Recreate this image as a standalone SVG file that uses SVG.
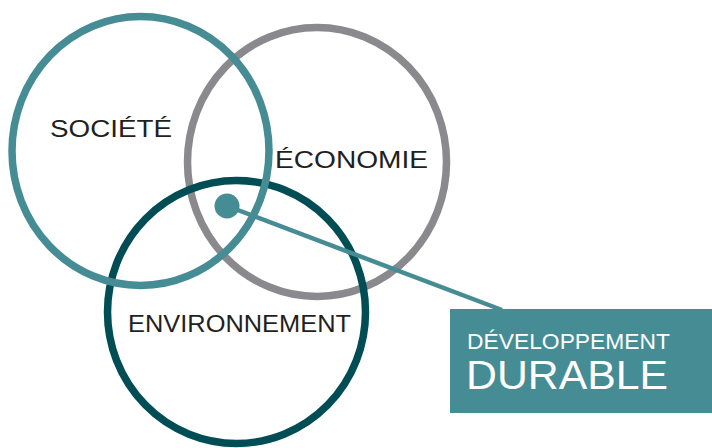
<svg xmlns="http://www.w3.org/2000/svg" width="712" height="448" viewBox="0 0 712 448">
<style>
.ring{fill:none;stroke-width:7.5}
.lbl{font-family:"Liberation Sans",Arial,sans-serif;font-size:24px;fill:#231f20}
.wt{font-family:"Liberation Sans",Arial,sans-serif;fill:#ffffff}
</style>
<rect width="712" height="448" fill="#ffffff"/>
<g id="economie">
<ellipse class="ring" cx="317" cy="162" rx="129.5" ry="134.5" stroke="#8a898e"/>
<text class="lbl" x="275" y="168" textLength="153" lengthAdjust="spacingAndGlyphs">ÉCONOMIE</text>
</g>
<g id="environnement">
<ellipse class="ring" cx="236.5" cy="312" rx="129" ry="131.5" stroke="#004d55"/>
<text class="lbl" x="128" y="332" textLength="223" lengthAdjust="spacingAndGlyphs">ENVIRONNEMENT</text>
</g>
<g id="societe">
<ellipse class="ring" cx="140.5" cy="151" rx="128.5" ry="134.5" stroke="#468c94"/>
<text class="lbl" x="50" y="137" textLength="122" lengthAdjust="spacingAndGlyphs">SOCIÉTÉ</text>
</g>
<g id="connectors">
<line x1="227" y1="206" x2="502" y2="310" stroke="#468c94" stroke-width="4.5"/>
<circle cx="227" cy="206" r="12.5" fill="#468c94"/>
</g>
<g id="developpement-durable">
<rect x="450" y="309" width="262" height="104" fill="#468c94"/>
<text class="wt" x="467" y="349" font-size="22" textLength="203" lengthAdjust="spacingAndGlyphs">DÉVELOPPEMENT</text>
<text class="wt" x="466" y="389" font-size="41" textLength="202" lengthAdjust="spacingAndGlyphs">DURABLE</text>
</g>
</svg>
